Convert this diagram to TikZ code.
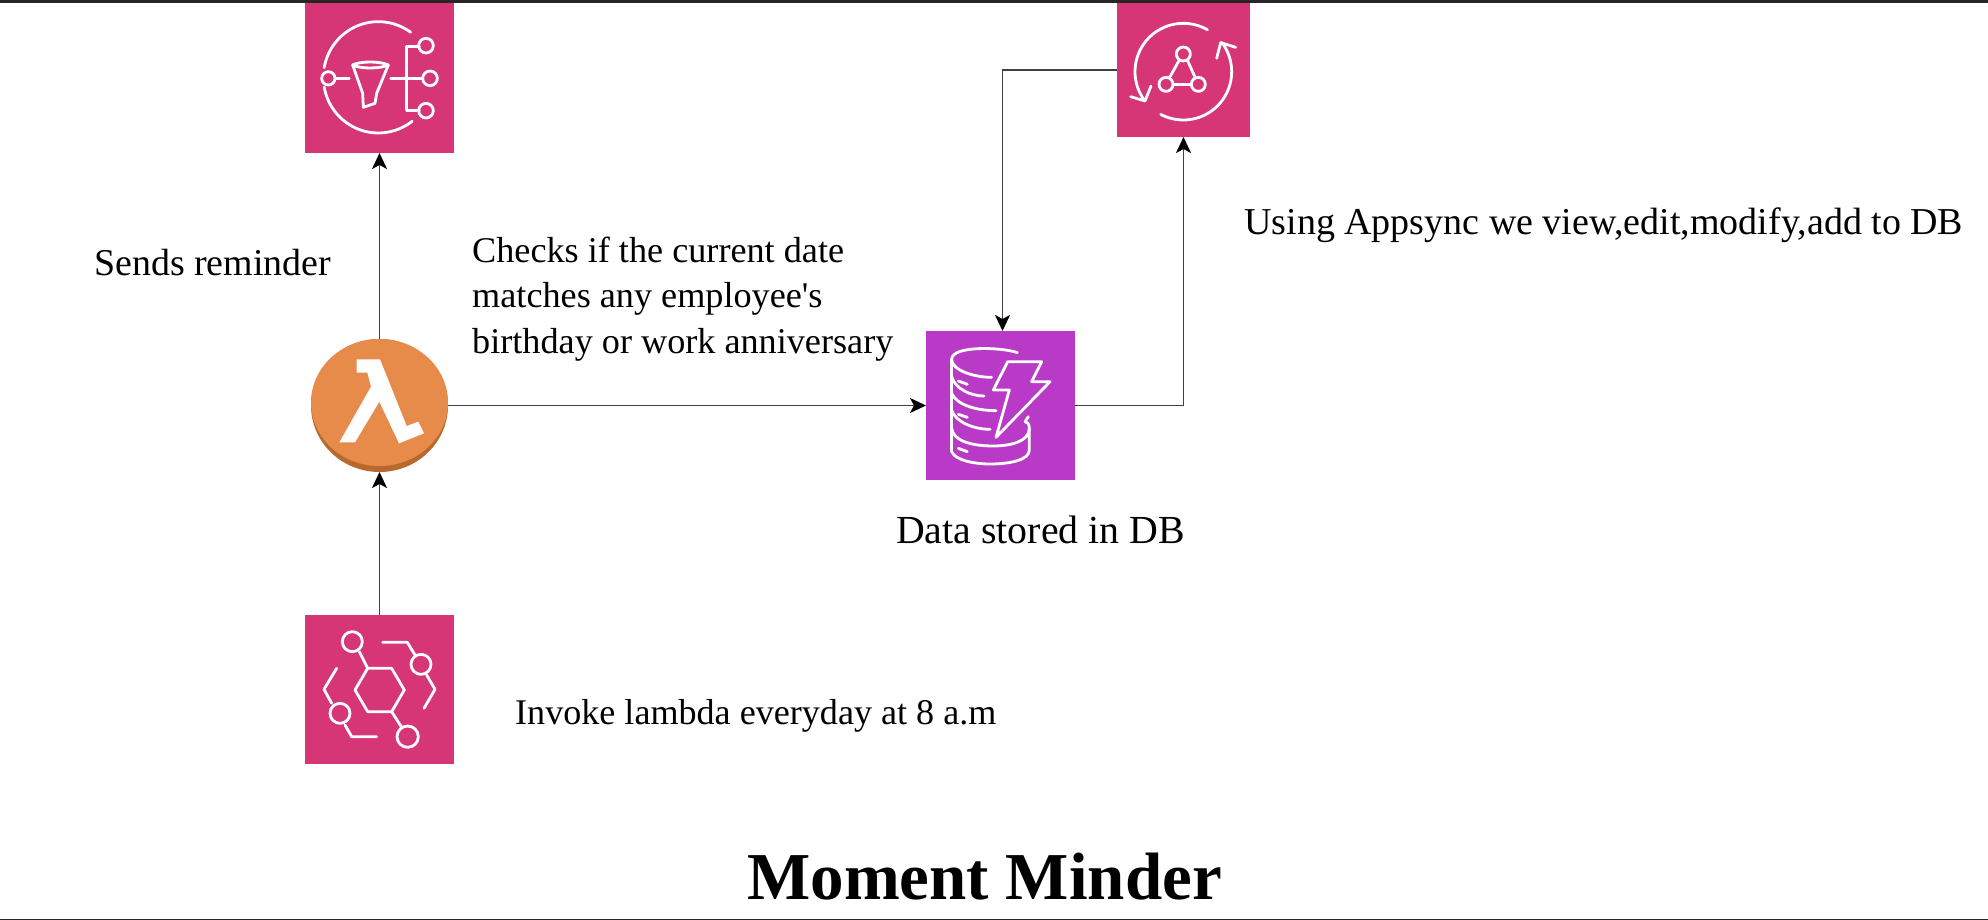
\documentclass[tikz,border=0pt]{standalone}
\usepackage{fontspec}
\setmainfont{Liberation Serif}
\usetikzlibrary{arrows.meta,shapes.geometric}
\definecolor{awspink}{HTML}{D63675}
\definecolor{awspurple}{HTML}{BA3AC8}
\definecolor{awsorange}{HTML}{E78B4A}
\definecolor{awsshade}{HTML}{B9692E}
\definecolor{bandcol}{HTML}{262626}
\tikzset{
  iconbox/.style={draw=none,rectangle,inner sep=0pt,outer sep=0pt},
  glyph/.style={draw=white,line width=2.8pt,line cap=round,line join=round,fill=none},
  link/.style={draw=black!75,line width=1.9pt,-{Stealth[length=16pt,width=15pt,inset=4pt,color=black,fill=black]}},
  label/.style={anchor=base west,inner sep=0pt},
  icongrid/.style={x=0.33333pt,y=-0.33333pt}
}
\newcommand{\fsz}[1]{\fontsize{#1}{#1}\selectfont}
\begin{document}
\begin{tikzpicture}[x=1pt,y=-1pt]
\useasboundingbox (0,0) rectangle (1988,920);
\fill[white] (0,0) rectangle (1988,920);
\fill[bandcol] (0,0) rectangle (1988,3);
\fill[bandcol] (0,918.5) rectangle (1988,920);

\node[iconbox,fill=awspink,minimum width=149pt,minimum height=150pt] (sns) at (379.5,78) {};
\node[iconbox,fill=awspink,minimum width=133pt,minimum height=134pt] (app) at (1183.5,70) {};
\node[iconbox,fill=awspurple,minimum width=149pt,minimum height=149pt] (dyn) at (1000.5,405.5) {};
\node[iconbox,fill=awspink,minimum width=149pt,minimum height=149pt] (eb) at (379.5,689.5) {};
\node[ellipse,fill=awsshade,inner sep=0pt,outer sep=0pt,minimum width=137pt,minimum height=133pt] (lam) at (379.5,405.5) {};
\fill[awsorange] (379.5,402.5) ellipse [x radius=68.5, y radius=63.5];

% SNS glyph
\begin{scope}[shift={(280,0)},icongrid]
\draw[glyph] plot[domain=54:170,samples=40] ({295+165*cos(\x)},{232-167*sin(\x)});
\draw[glyph] plot[domain=190:308,samples=40] ({295+165*cos(\x)},{232-167*sin(\x)});
\draw[glyph] (145,235) circle [radius=20];
\draw[glyph] (170,235) -- (208,235);
\draw[glyph] (218,195) .. controls (240,183) and (300,183) .. (325,195) .. controls (300,207) and (240,207) .. cycle;
\draw[glyph] (218,195) -- (248,280) -- (250,322) -- (285,310) -- (290,280) -- (325,195);
\draw[glyph] (332,235) -- (428,235);
\draw[glyph] (418,140) -- (380,140) -- (380,332) -- (418,332);
\draw[glyph] (438,137) circle [radius=22];
\draw[glyph] (450,235) circle [radius=22];
\draw[glyph] (438,332) circle [radius=22];
\end{scope}

% AppSync glyph
\begin{scope}[shift={(1090,0)},icongrid]
\draw[glyph] plot[domain=60:215,samples=40] ({280+145*cos(\x)},{215-145*sin(\x)});
\draw[glyph] plot[domain=242:397,samples=40] ({280+145*cos(\x)},{215-145*sin(\x)});
\draw[glyph] (122,290) -- (165,303) -- (183,258);
\draw[glyph] (380,175) -- (392,128) -- (437,142);
\draw[glyph] (280,162) circle [radius=21];
\draw[glyph] (228,253) circle [radius=21];
\draw[glyph] (325,253) circle [radius=21];
\draw[glyph] (268,180) -- (238,234);
\draw[glyph] (292,180) -- (316,234);
\draw[glyph] (250,253) -- (304,253);
\end{scope}

% Lambda glyph
\begin{scope}[shift={(290,320)},icongrid]
\fill[white] (200,118) -- (270,118) -- (350,318) -- (385,305) -- (402,340) -- (327,370) -- (268,245) -- (195,367) -- (148,367) -- (243,200) -- (232,158) -- (200,158) -- cycle;
\end{scope}

% DynamoDB glyph
\begin{scope}[shift={(910,320)},icongrid]
\draw[glyph] (322,98) .. controls (280,82) and (125,75) .. (125,118) .. controls (125,150) and (190,172) .. (245,172);
\draw[glyph] (125,118) -- (125,395);
\draw[glyph] (125,170) .. controls (135,205) and (180,228) .. (222,228);
\draw[glyph] (125,220) .. controls (140,255) and (200,272) .. (258,272);
\draw[glyph] (125,270) .. controls (135,305) and (190,328) .. (240,328);
\draw[glyph] (125,325) .. controls (130,365) and (190,378) .. (250,378) .. controls (300,378) and (358,365) .. (358,325) .. controls (358,310) and (350,305) .. (345,305);
\draw[glyph] (345,305) -- (355,290);
\draw[glyph] (125,395) .. controls (135,420) and (190,432) .. (240,432) .. controls (300,432) and (358,420) .. (358,390) -- (358,325);
\draw[glyph] (145,183) -- (172,193);
\draw[glyph] (145,283) -- (172,292);
\draw[glyph] (145,385) -- (172,395);
\draw[glyph] (293,125) -- (395,125) -- (365,185) -- (420,185) -- (258,352) -- (298,210) -- (250,210) -- cycle;
\end{scope}

% EventBridge glyph
\begin{scope}[shift={(290,600)},icongrid]
\draw[glyph] (343,270) -- (305,205) -- (233,205) -- (195,270) -- (233,335) -- (305,335) -- cycle;
\draw[glyph] (187,125) circle [radius=30];
\draw[glyph] (393,193) circle [radius=30];
\draw[glyph] (150,340) circle [radius=30];
\draw[glyph] (353,410) circle [radius=32];
\draw[glyph] (208,155) -- (233,205);
\draw[glyph] (305,335) -- (335,382);
\draw[glyph] (278,127) -- (352,127) -- (375,165);
\draw[glyph] (410,225) -- (435,268) -- (402,325);
\draw[glyph] (140,205) -- (102,268) -- (125,310);
\draw[glyph] (165,375) -- (185,410) -- (260,410);
\end{scope}

% Connectors
\draw[link] (eb.north) -- (lam.south);
\draw[link] (lam.north) -- (sns.south);
\draw[link] (lam.east) -- (dyn.west);
\draw[link] (dyn.east) -| (app.south);
\draw[link] (app.west) -| ([xshift=2pt]dyn.north);

% Labels
\node[label,font=\fsz{37.9}] (t1) at (94,275) {Sends reminder};
\node[label,font=\fsz{36.2}] (t2) at (472,262.5) {Checks if the current date};
\node[label,font=\fsz{36.2}] (t3) at (472,307.5) {matches any employee\textquotesingle s};
\node[label,font=\fsz{36.2}] (t4) at (472,353) {birthday or work anniversary};
\node[label,font=\fsz{39.8}] (t5) at (896,543) {Data stored in DB};
\node[label,font=\fsz{38}] (t6) at (1244,234) {Using Appsync we view,edit,modify,add to DB};
\node[label,font=\fsz{36.1}] (t7) at (515,724) {Invoke lambda everyday at 8 a.m};
\node[anchor=base,inner sep=0pt,font=\fsz{67}\bfseries] (title) at (984.5,899) {Moment Minder};
\end{tikzpicture}
\end{document}
